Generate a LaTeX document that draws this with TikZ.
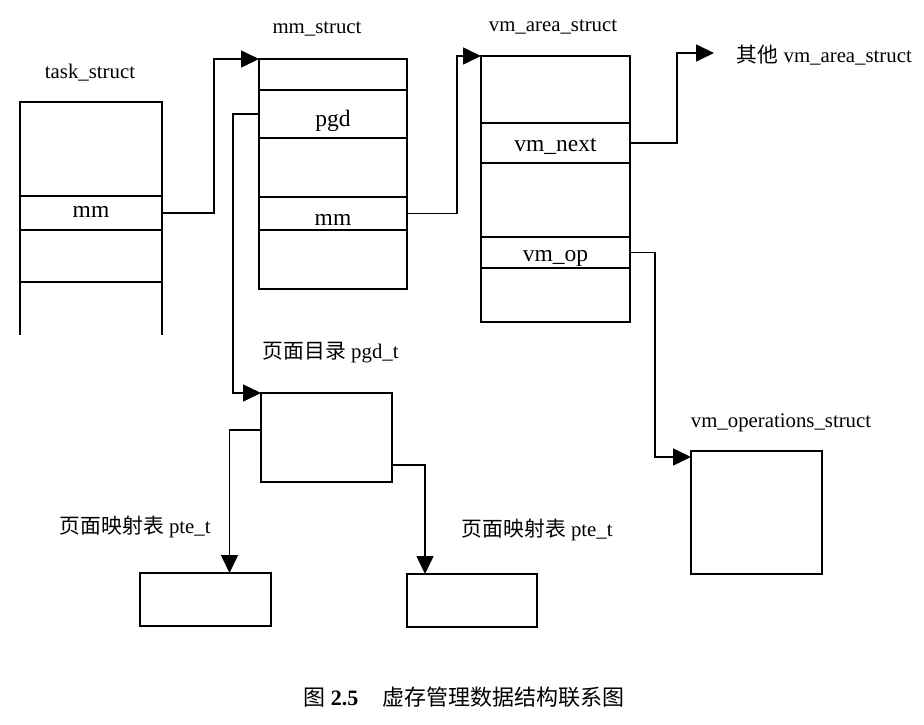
\documentclass[tikz,border=0pt]{standalone}
\usepackage{fontspec}
\setmainfont{Liberation Serif}
\newfontfamily\cjk{Noto Sans CJK SC}
\usetikzlibrary{arrows.meta}

\begin{document}
\begin{tikzpicture}[x=1pt,y=-1pt,line width=1.6pt,
  cell/.style={draw,anchor=north west,inner sep=0pt,outer sep=0pt,font=\fontsize{23.5}{26}\selectfont},
  low/.style={text height=#1,text depth=0pt},
  lbl/.style={inner sep=0pt,font=\fontsize{20.8}{24}\selectfont},
  ptr/.style={-{Triangle[length=18pt,width=17pt]}}]
  \useasboundingbox (0,0) rectangle (924,725);
  % task_struct on the left
  \node[lbl]                                            (tasklbl) at (90,73)   {task\_struct};
  \node[cell,minimum width=142pt,minimum height=94pt]  (t1)      at (20,102)  {};
  \node[cell,low=9pt,minimum width=142pt,minimum height=34pt]  (tmm) at (20,196) {mm};
  \node[cell,minimum width=142pt,minimum height=52pt]  (t3)      at (20,230)  {};
  \draw (t3.south west) -- ++(0,53);
  \draw (t3.south east) -- ++(0,53);
  % mm_struct
  \node[lbl]                                            (mmlbl)   at (317,29)  {mm\_struct};
  \node[cell,minimum width=148pt,minimum height=31pt]  (m1)      at (259,59)  {};
  \node[cell,low=25pt,minimum width=148pt,minimum height=48pt] (mpgd) at (259,90) {pgd};
  \node[cell,minimum width=148pt,minimum height=59pt]  (m3)      at (259,138) {};
  \node[cell,low=23pt,minimum width=148pt,minimum height=33pt] (mmm) at (259,197) {mm};
  \node[cell,minimum width=148pt,minimum height=59pt]  (m5)      at (259,230) {};
  % vm_area_struct
  \node[lbl]                                            (vmlbl)   at (553,27)  {vm\_area\_struct};
  \node[cell,minimum width=149pt,minimum height=67pt]  (v1)      at (481,56)  {};
  \node[cell,low=16pt,minimum width=149pt,minimum height=40pt] (vnext) at (481,123) {vm\_next};
  \node[cell,minimum width=149pt,minimum height=74pt]  (v3)      at (481,163) {};
  \node[cell,low=17pt,minimum width=149pt,minimum height=31pt] (vop) at (481,237) {vm\_op};
  \node[cell,minimum width=149pt,minimum height=54pt]  (v5)      at (481,268) {};
  \coordinate (othertip) at (714,53);
  \node[lbl,anchor=west]                                (other)   at (736,55)  {{\cjk 其他} vm\_area\_struct};
  % vm_operations_struct
  \node[lbl]                                            (opslbl)  at (781,423) {vm\_operations\_struct};
  \node[cell,minimum width=131pt,minimum height=123pt] (ops)     at (691,451) {};
  % page directory and page tables
  \node[lbl,anchor=west]                                (pgdlbl)  at (262,353) {{\cjk 页面目录} pgd\_t};
  \node[cell,minimum width=131pt,minimum height=89pt]  (pgd)     at (261,393) {};
  \node[lbl,anchor=west]                                (ptelblA) at (59,527)  {{\cjk 页面映射表} pte\_t};
  \node[cell,minimum width=131pt,minimum height=53pt]  (pteA)    at (140,573) {};
  \node[lbl,anchor=west]                                (ptelblB) at (461,530) {{\cjk 页面映射表} pte\_t};
  \node[cell,minimum width=130pt,minimum height=53pt]  (pteB)    at (407,574) {};
  % pointers
  \draw[ptr] (tmm.east) -- ++(52,0) |- (m1.north west);
  \draw[ptr] (mpgd.west) -- ++(-26,0) |- (pgd.north west);
  \draw[ptr] (mmm.east) -- ++(50,0) |- (v1.north west);
  \draw[ptr] (vnext.east) -- ++(47,0) |- (othertip);
  \draw[ptr] (vop.east) -- ++(25,0) |- ([yshift=-6pt]ops.north west);
  \draw[ptr] ([yshift=-37pt]pgd.north west) -| ([xshift=24pt]pteA.north);
  \draw[ptr] ([yshift=-72pt]pgd.north east) -| ([xshift=-47pt]pteB.north);
  % caption
  \node[font=\fontsize{22}{26}\selectfont] (caption) at (464,697) {{\cjk 图} \textbf{2.5}\hspace{1.1em}{\cjk 虚存管理数据结构联系图}};
\end{tikzpicture}
\end{document}
